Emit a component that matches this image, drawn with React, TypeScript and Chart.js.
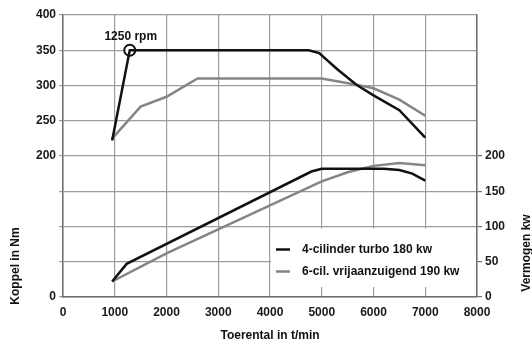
import React, { useEffect, useRef } from "react";
import { Chart, registerables } from "chart.js";

Chart.register(...registerables);

// X axis: engine speed (t/min)
const xTicks = [0, 1000, 2000, 3000, 4000, 5000, 6000, 7000, 8000];

// Torque (Nm)
const turboTorqueRpm = [950, 1290, 4750, 4950, 5300, 5670, 6000, 6500, 7000];
const turboTorqueNm = [222, 350, 350, 346, 323, 301, 286, 265, 226];
const n6TorqueRpm = [940, 1500, 2000, 2600, 5000, 5670, 6000, 6500, 7000];
const n6TorqueNm = [224, 270, 284, 310, 310, 301, 296, 280, 257];

// Power (kW)
const turboPowerRpm = [950, 1230, 4800, 5000, 6200, 6500, 6750, 7000];
const turboPowerKw = [22, 47, 178, 182, 182, 180, 175, 165];
const n6PowerRpm = [950, 2000, 3000, 4000, 5000, 5500, 6000, 6500, 7000];
const n6PowerKw = [22, 62, 96, 130, 164, 177, 186, 190, 187];

// Marker
const markerRpm = [1290];
const markerNm = [350];
const markerLabel = "1250 rpm";

const seriesLabels = ["4-cilinder turbo 180 kw", "6-cil. vrijaanzuigend 190 kw"];
const leftTickLabels = [0, 200, 250, 300, 350, 400];
const rightTickLabels = [0, 50, 100, 150, 200];

const xTitle = "Toerental in t/min";
const yLeftTitle = "Koppel in Nm";
const yRightTitle = "Vermogen kw";

const BLACK = "#111111";
const GRAY = "#858585";
const FONT = "'Liberation Sans', Arial, sans-serif";

const zip = (xs: number[], ys: number[]) => xs.map((x, i) => ({ x, y: ys[i] }));

const overlayPlugin = {
  id: "overlay",
  afterDraw(chart: any) {
    const ctx = chart.ctx;
    const xs = chart.scales.x;
    const ys = chart.scales.y;
    const area = chart.chartArea;
    ctx.save();
    // legend box
    const bx = xs.getPixelForValue(4000) + 1;
    const by = ys.getPixelForValue(100) + 2;
    const bBottom = area.bottom - 10;
    ctx.fillStyle = "#ffffff";
    ctx.fillRect(bx, by, area.right - bx - 1, bBottom - by);
    const rows = [
      { label: seriesLabels[0], color: BLACK, y: by + 21 },
      { label: seriesLabels[1], color: GRAY, y: by + 43 },
    ];
    ctx.font = `bold 12px ${FONT}`;
    ctx.textBaseline = "middle";
    ctx.textAlign = "left";
    rows.forEach((r) => {
      ctx.strokeStyle = r.color;
      ctx.lineWidth = 2.5;
      ctx.beginPath();
      ctx.moveTo(bx + 5, r.y);
      ctx.lineTo(bx + 19, r.y);
      ctx.stroke();
      ctx.fillStyle = "#111";
      ctx.fillText(r.label, bx + 31, r.y);
    });
    // marker label
    const mx = xs.getPixelForValue(markerRpm[0]);
    const my = ys.getPixelForValue(markerNm[0]);
    ctx.textAlign = "center";
    ctx.textBaseline = "middle";
    ctx.fillText(markerLabel, mx + 1, my - 14);
    // titles
    ctx.fillText(xTitle, (area.left + area.right) / 2, 336);
    ctx.save();
    ctx.translate(16, 266);
    ctx.rotate(-Math.PI / 2);
    ctx.fillText(yLeftTitle, 0, 0);
    ctx.restore();
    ctx.save();
    ctx.translate(527, 253);
    ctx.rotate(-Math.PI / 2);
    ctx.fillText(yRightTitle, 0, 0);
    ctx.restore();
    ctx.restore();
  },
};

export default function App() {
  const ref = useRef<HTMLCanvasElement | null>(null);
  useEffect(() => {
    if (!ref.current) return;
    const tickFont = { family: FONT, size: 12, weight: "bold" as const };
    const chart = new Chart(ref.current, {
      type: "line",
      data: {
        datasets: [
          { label: seriesLabels[0], data: zip(turboTorqueRpm, turboTorqueNm), borderColor: BLACK, borderWidth: 2.5, pointRadius: 0, yAxisID: "y" },
          { label: seriesLabels[1], data: zip(n6TorqueRpm, n6TorqueNm), borderColor: GRAY, borderWidth: 2.5, pointRadius: 0, yAxisID: "y" },
          { label: seriesLabels[0] + " P", data: zip(turboPowerRpm, turboPowerKw), borderColor: BLACK, borderWidth: 2.5, pointRadius: 0, yAxisID: "y2" },
          { label: seriesLabels[1] + " P", data: zip(n6PowerRpm, n6PowerKw), borderColor: GRAY, borderWidth: 2.5, pointRadius: 0, yAxisID: "y2" },
          { label: "marker", data: zip(markerRpm, markerNm), showLine: false, pointRadius: 5.5, pointBorderWidth: 2, pointBorderColor: BLACK, pointBackgroundColor: "#fff", yAxisID: "y" },
        ],
      },
      options: {
        responsive: false,
        animation: false,
        layout: { padding: { top: 15, left: 0, right: 0, bottom: 0 } },
        plugins: { legend: { display: false }, tooltip: { enabled: false } },
        scales: {
          x: {
            type: "linear",
            min: xTicks[0],
            max: xTicks[xTicks.length - 1],
            afterBuildTicks: (s: any) => { s.ticks = xTicks.map((v) => ({ value: v })); },
            ticks: { font: tickFont, color: "#1a1a1a", padding: 8, maxRotation: 0, callback: (v: any) => String(v) },
            grid: { color: "#9d9d9d", lineWidth: 1.2, tickLength: 0 },
            border: { color: "#6e6e6e", width: 1.5 },
            afterFit: (s: any) => { s.height = 47; },
          },
          y: {
            position: "left",
            min: 0,
            max: 400,
            ticks: { stepSize: 50, font: tickFont, color: "#1a1a1a", padding: 3, callback: (v: any) => (leftTickLabels.includes(v) ? String(v) : "") },
            grid: { color: "#9d9d9d", lineWidth: 1.2, tickLength: 4 },
            border: { color: "#6e6e6e", width: 1.5 },
            afterFit: (s: any) => { s.width = 63; },
          },
          y2: {
            position: "right",
            min: 0,
            max: 400,
            ticks: { stepSize: 50, font: tickFont, color: "#1a1a1a", padding: 3, callback: (v: any) => (rightTickLabels.includes(v) ? String(v) : "") },
            grid: { drawOnChartArea: false, color: (c: any) => (rightTickLabels.includes(c.tick?.value) ? "#6e6e6e" : "rgba(0,0,0,0)"), tickLength: 5, lineWidth: 1.2 },
            border: { color: "#6e6e6e", width: 1.5 },
            afterFit: (s: any) => { s.width = 55; },
          },
        },
      },
      plugins: [overlayPlugin],
    });
    return () => chart.destroy();
  }, []);
  return (
    <div style={{ position: "fixed", left: 0, top: 0, width: 532, height: 344, background: "#fff" }}>
      <canvas ref={ref} width={532} height={344} style={{ display: "block" }} />
    </div>
  );
}
